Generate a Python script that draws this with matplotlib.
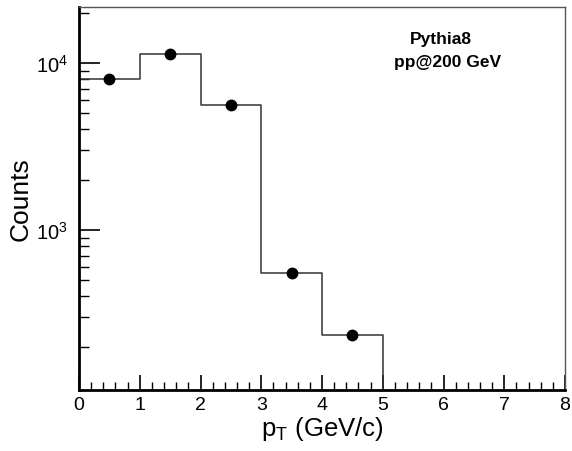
import numpy as np
import matplotlib.pyplot as plt
from matplotlib.ticker import LogLocator, MultipleLocator, NullFormatter

plt.rcParams['font.family'] = ['Liberation Sans', 'DejaVu Sans']
plt.rcParams['mathtext.fontset'] = 'custom'
plt.rcParams['mathtext.rm'] = 'Liberation Sans'
plt.rcParams['mathtext.it'] = 'Liberation Sans:italic'
plt.rcParams['mathtext.bf'] = 'Liberation Sans:bold'

# pT spectrum, 1 GeV/c bins
bin_edges = [0, 1, 2, 3, 4, 5]
counts = [7990, 11370, 5610, 551, 236]

W, H = 572, 452
fig = plt.figure(figsize=(W / 100, H / 100), dpi=100)
ax = fig.add_axes([79 / W, 61 / H, 486 / W, 383 / H])

ymin, ymax = 110, 21600
edges = np.array(bin_edges, dtype=float)
vals = np.array(counts, dtype=float)
centers = 0.5 * (edges[:-1] + edges[1:])

# histogram outline, dropping to the axis after the last filled bin
xs = np.repeat(edges, 2)[1:]
ys = np.append(np.repeat(vals, 2), ymin)
ax.plot(xs, ys, color='#333333', lw=1.1)
ax.plot(centers, vals, 'o', color='black', ms=7.5)

ax.set_yscale('log')
ax.set_xlim(0, 8)
ax.set_ylim(ymin, ymax)

ax.xaxis.set_major_locator(MultipleLocator(1))
ax.xaxis.set_minor_locator(MultipleLocator(0.2))
ax.yaxis.set_major_locator(LogLocator(base=10))
ax.yaxis.set_minor_locator(LogLocator(base=10, subs=np.arange(2, 10)))
ax.yaxis.set_minor_formatter(NullFormatter())

ax.tick_params(axis='x', which='major', direction='in', length=11, width=1.2,
               labelsize=14, pad=4, top=False)
ax.tick_params(axis='x', which='minor', direction='in', length=6, width=1.0, top=False)
ax.tick_params(axis='y', which='major', direction='in', length=15, width=1.2,
               labelsize=14.5, pad=8, right=False)
ax.tick_params(axis='y', which='minor', direction='in', length=7, width=1.0, right=False)

for side in ['left', 'bottom']:
    ax.spines[side].set_linewidth(2.0)
for side in ['top', 'right']:
    ax.spines[side].set_linewidth(1.0)
    ax.spines[side].set_color('#555555')

ax.set_xlabel(r'p$_{\mathregular{T}}$ (GeV/c)', fontsize=18.5, labelpad=1)
ax.set_ylabel('Counts', fontsize=19, labelpad=2)

fig.text(441 / W, 1 - 44 / H, 'Pythia8', fontsize=12.5, fontweight='bold',
         ha='center', va='baseline')
fig.text(448 / W, 1 - 67 / H, 'pp@200 GeV', fontsize=12.5, fontweight='bold',
         ha='center', va='baseline')

fig.savefig('out.png', dpi=100)
